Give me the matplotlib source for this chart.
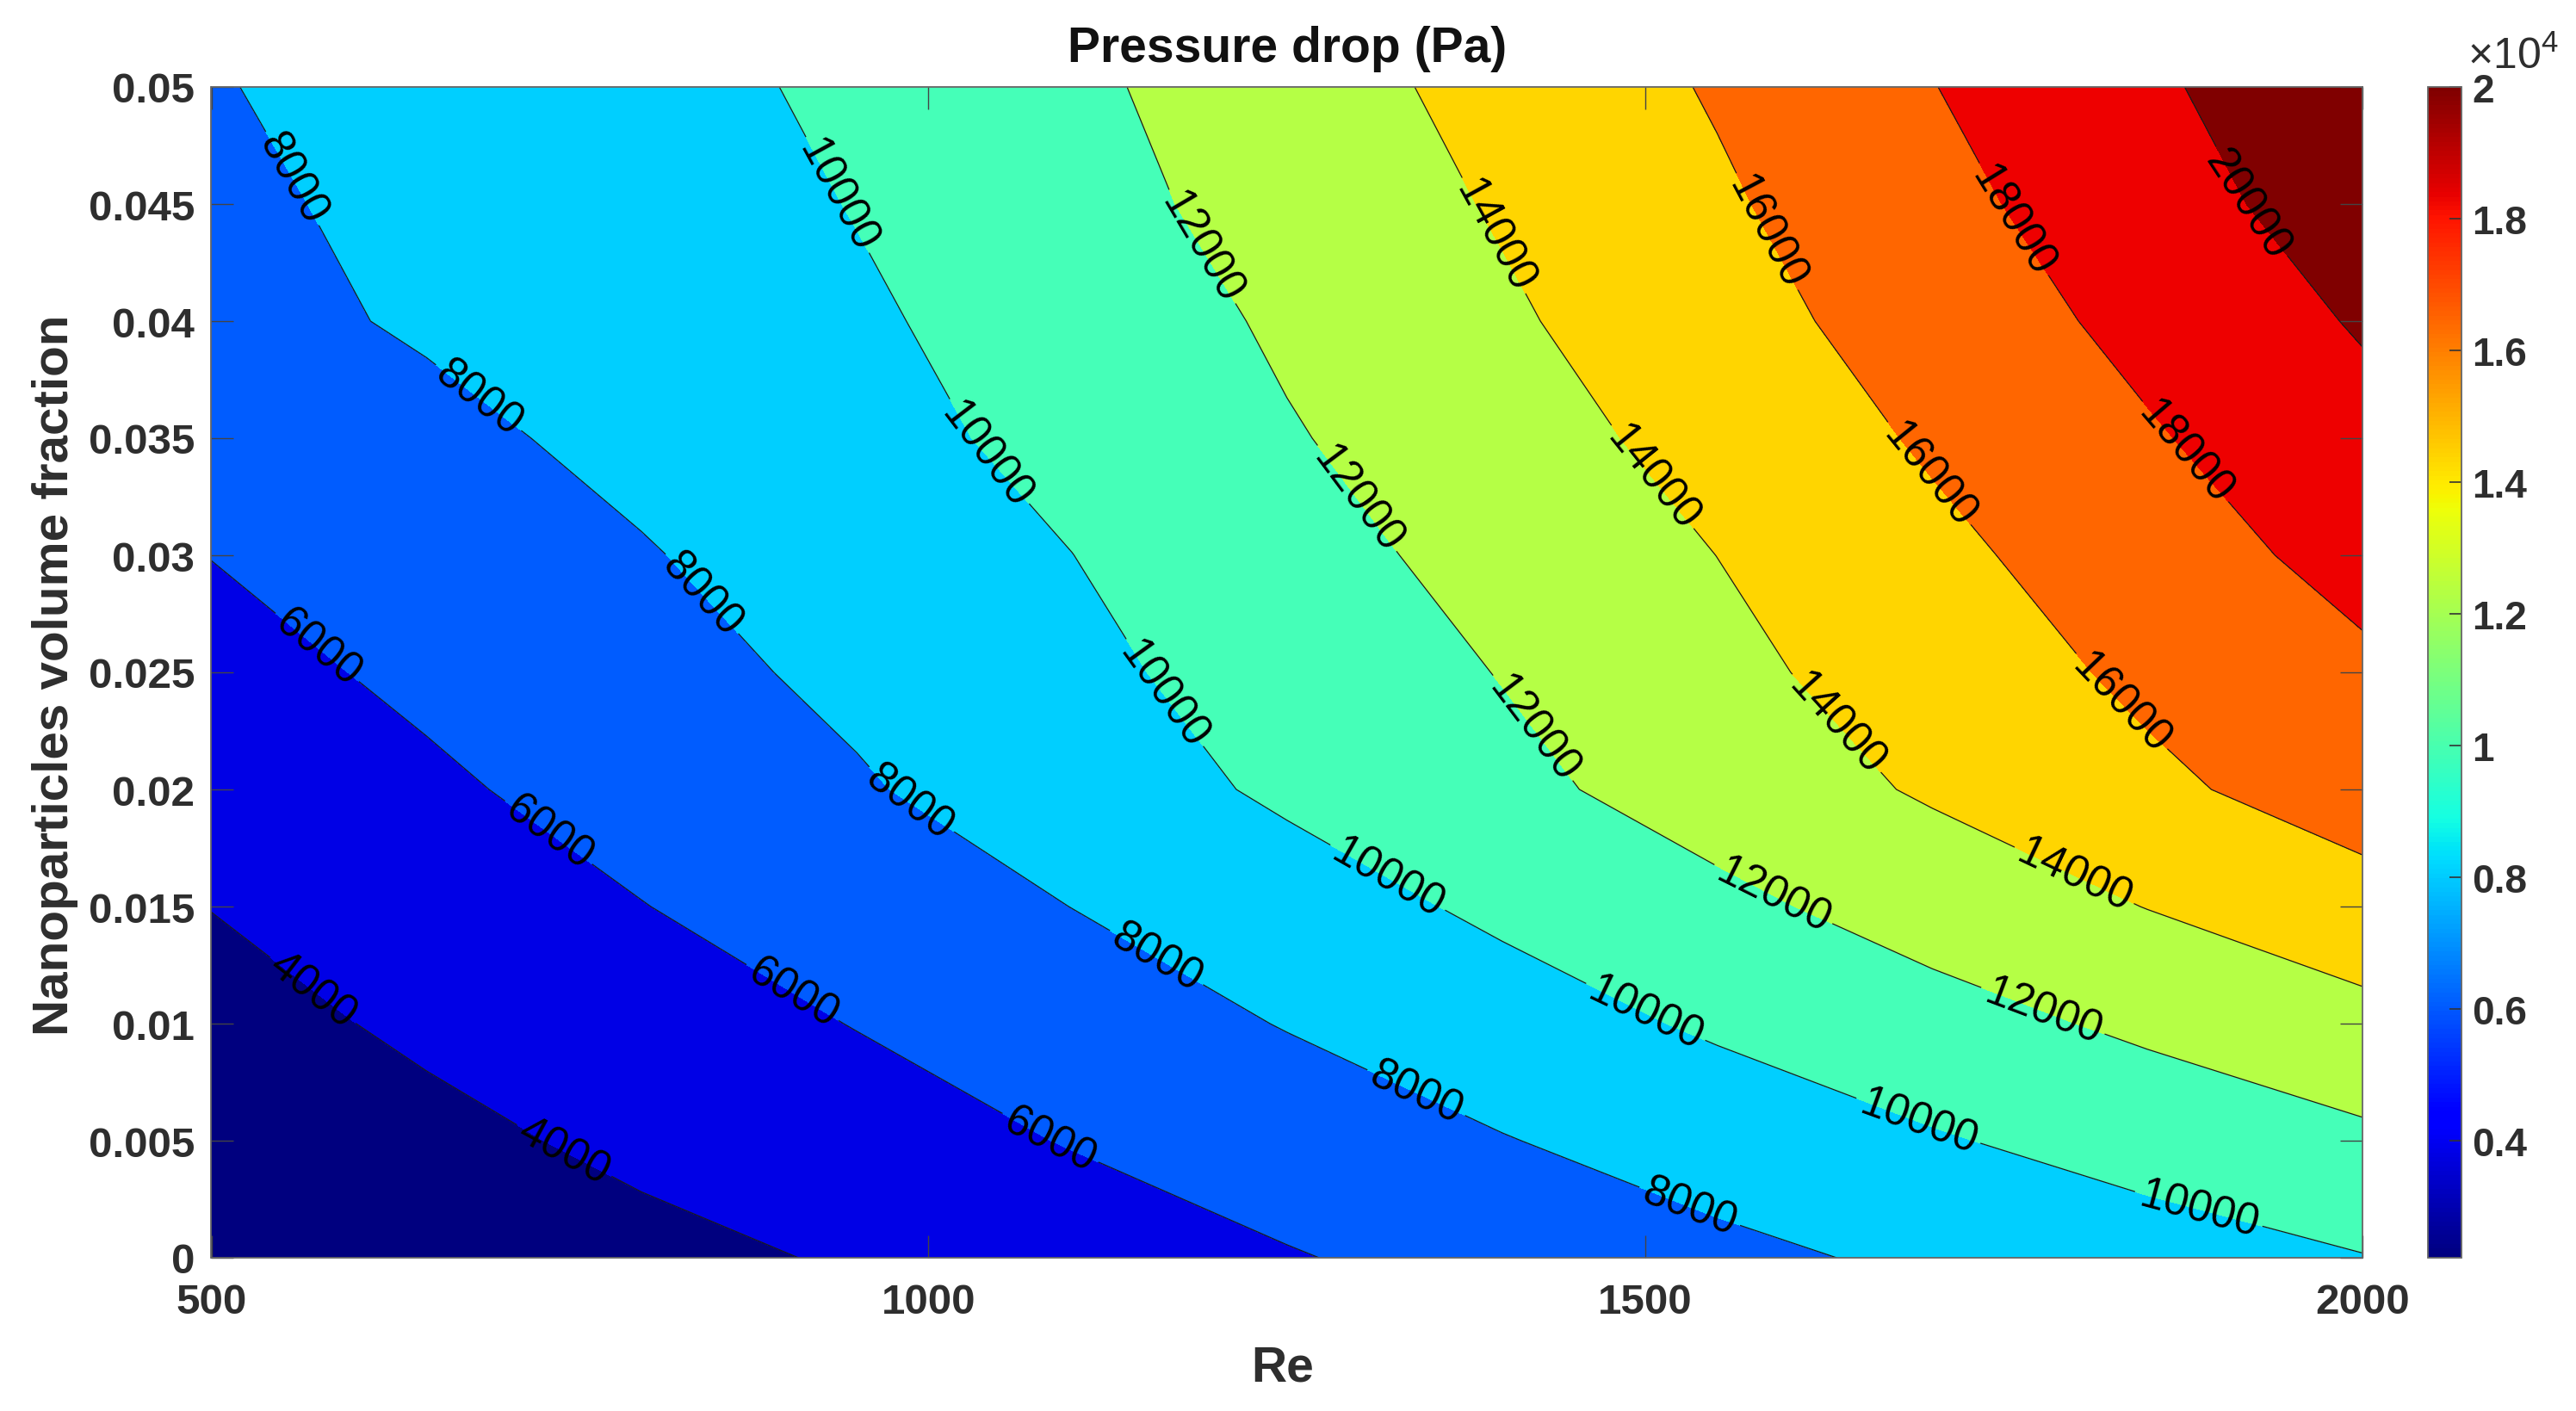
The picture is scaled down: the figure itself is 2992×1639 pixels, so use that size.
import numpy as np
import matplotlib
matplotlib.use("Agg")
import matplotlib.pyplot as plt
from matplotlib.cm import ScalarMappable
from matplotlib.colors import Normalize

plt.rcParams['font.family'] = ['Liberation Sans', 'DejaVu Sans']
plt.rcParams['mathtext.default'] = 'regular'

re_values = [500, 650, 800, 950, 1100, 1250, 1400, 1550, 1700, 1850, 2000]
phi_values = [0, 0.005, 0.01, 0.015, 0.02, 0.025, 0.03, 0.035, 0.04, 0.045, 0.05]

dp_phi_000 = [2222, 2882, 3542, 4170, 5062, 5875, 6710, 7548, 8361, 9145, 9930]
dp_phi_005 = [2850, 3575, 4357, 5219, 6085, 7000, 7915, 8869, 9828, 10753, 11650]
dp_phi_010 = [3407, 4288, 5168, 6054, 7063, 8080, 9175, 10258, 11303, 12350, 13400]
dp_phi_015 = [4030, 4993, 5956, 6982, 8015, 9173, 10347, 11556, 12791, 14042, 15291]
dp_phi_020 = [4700, 5695, 6743, 7814, 9042, 10295, 11525, 12846, 14231, 15620, 16900]
dp_phi_025 = [5373, 6363, 7353, 8405, 9572, 10798, 12067, 13510, 14942, 16371, 17650]
dp_phi_030 = [6030, 6954, 7878, 8922, 9986, 11298, 12639, 14010, 15540, 17083, 18629]
dp_phi_035 = [6606, 7544, 8481, 9419, 10507, 11840, 13200, 14656, 16241, 17811, 19382]
dp_phi_040 = [7414, 8206, 8998, 9790, 10700, 12303, 13725, 15267, 16879, 18528, 20176]
dp_phi_045 = [7653, 8430, 9207, 10060, 11330, 12727, 14176, 15730, 17433, 19188, 20953]
dp_phi_050 = [7894, 8691, 9489, 10287, 11620, 13100, 14615, 16177, 17953, 19698, 21442]

contour_levels = [4000, 6000, 8000, 10000, 12000, 14000, 16000, 18000, 20000]
band_edges = [2000] + contour_levels + [22000]
band_colors = ['#00007F', '#0000E6', '#005CFF', '#00CFFF', '#45FFB8',
               '#B5FF45', '#FFD500', '#FF6600', '#EE0000', '#800000']
color_min, color_max = 2222, 20000

x_ticks = [500, 1000, 1500, 2000]
y_ticks = [0, 0.005, 0.01, 0.015, 0.02, 0.025, 0.03, 0.035, 0.04, 0.045, 0.05]
y_tick_labels = ['0', '0.005', '0.01', '0.015', '0.02', '0.025', '0.03', '0.035', '0.04', '0.045', '0.05']
cbar_ticks = [4000, 6000, 8000, 10000, 12000, 14000, 16000, 18000, 20000]
cbar_tick_labels = ['0.4', '0.6', '0.8', '1', '1.2', '1.4', '1.6', '1.8', '2']

label_spots = [
    (568, .0112), (742, .0041),
    (573, .0260), (732, .0179), (904, .0112), (1085, .0051),
    (554, .0460), (686, .0367), (843, .0284), (985, .0193), (1157, .0126), (1339, .0069), (1529, .0019),
    (940, .0455), (1047, .0347), (1164, .0241), (1319, .0161), (1501, .0106), (1690, .0058), (1885, .0019),
    (1186, .0430), (1296, .0323), (1421, .0226), (1589, .0155), (1775, .0102),
    (1390, .0435), (1506, .0334), (1631, .0227), (1798, .0162),
    (1581, .0437), (1696, .0334), (1831, .0237),
    (1753, .0442), (1876, .0344),
    (1922, .0451),
]

W, H = 2992, 1640
TXT = '#2e2e2e'
fig = plt.figure(figsize=(W / 100, H / 100), dpi=100, facecolor='white')
ax = fig.add_axes([245.5 / W, 1 - 1462 / H, (2744 - 245.5) / W, (1462 - 102) / H])
cax = fig.add_axes([2820 / W, 1 - 1462 / H, 39 / W, (1462 - 102) / H])

Z = np.array([dp_phi_000, dp_phi_005, dp_phi_010, dp_phi_015, dp_phi_020, dp_phi_025,
              dp_phi_030, dp_phi_035, dp_phi_040, dp_phi_045, dp_phi_050], dtype=float)

norm = Normalize(color_min, color_max)
jet = plt.get_cmap('jet')

ax.contourf(re_values, phi_values, Z, levels=band_edges, colors=band_colors)
cs = ax.contour(re_values, phi_values, Z, levels=contour_levels, colors='#1a1a1a', linewidths=0.9)
ax.clabel(cs, fmt='%d', manual=label_spots, inline=True, inline_spacing=6, fontsize=36.5, colors='black')

ax.set_xlim(500, 2000)
ax.set_ylim(0, 0.05)
ax.set_xticks(x_ticks)
ax.set_xticklabels([str(v) for v in x_ticks])
ax.set_yticks(y_ticks)
ax.set_yticklabels(y_tick_labels)
ax.tick_params(direction='in', length=18.5, width=1.0, color='#444444', top=True, right=True,
               labelsize=35.5, labelcolor=TXT, pad=14)
ax.tick_params(axis='x', pad=21)
for lab in ax.get_xticklabels() + ax.get_yticklabels():
    lab.set_fontweight('bold')
for s in ax.spines.values():
    s.set_color('#666666')
    s.set_linewidth(1.3)

ax.set_title('Pressure drop (Pa)', fontsize=41, fontweight='bold', color='#111111',
             y=(1462 - 57) / 1360, va='center', pad=0)
ax.set_xlabel('Re', fontsize=41, fontweight='bold', color=TXT)
ax.xaxis.set_label_coords(0.498, -(1590 - 1462) / 1360)
ax.xaxis.label.set_va('center')
ax.set_ylabel('Nanoparticles volume fraction', fontsize=42, fontweight='bold', color=TXT)
ax.yaxis.set_label_coords((64 - 245.5) / 2498.5, 0.498)
ax.yaxis.label.set_va('center')

cb = fig.colorbar(ScalarMappable(norm=norm, cmap=jet), cax=cax)
cb.set_ticks(cbar_ticks)
cb.set_ticklabels(cbar_tick_labels)
cax.tick_params(direction='in', length=10, width=1.2, color='#333333', labelsize=33,
                labelcolor=TXT, pad=9)
for lab in cax.get_yticklabels():
    lab.set_fontweight('bold')
cb.outline.set_edgecolor('#666666')
cb.outline.set_linewidth(1.3)

fig.text(2866 / W, 1 - 80 / H, r'$\times$10$^{4}$', fontsize=36, color=TXT, ha='left', va='baseline')

fig.savefig('out.png', dpi=100, facecolor='white')
